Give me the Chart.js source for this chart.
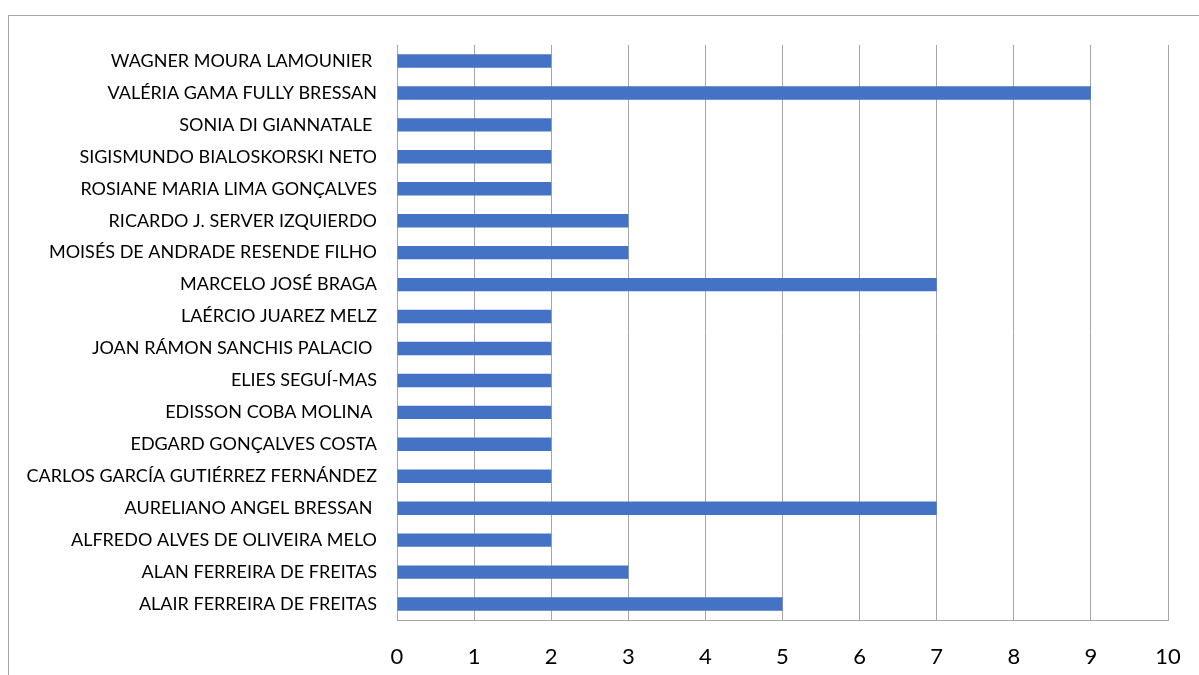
<!DOCTYPE html>
<html lang="pt">
<head>
    <meta charset="UTF-8">
    <title>Autores</title>
    <script src="https://cdn.jsdelivr.net/npm/chart.js"></script>
    <style>
        html, body { margin: 0; padding: 0; background: #fff; overflow: hidden; }
        #wrap { position: relative; width: 1199px; height: 675px; }
        #frame { position: absolute; left: 8px; top: 15px; width: 1300px; height: 800px;
                 border-left: 1px solid #a6a6a6; border-top: 1px solid #a6a6a6; }
        canvas { position: absolute; left: 0; top: 0; }
    </style>
</head>
<body>
<div id="wrap">
    <div id="frame"></div>
    <canvas id="autores" width="1199" height="675"></canvas>
</div>
<script>
    // autores, de cima para baixo
    const autores = [
        'WAGNER MOURA LAMOUNIER ',
        'VALÉRIA GAMA FULLY BRESSAN',
        'SONIA DI GIANNATALE ',
        'SIGISMUNDO BIALOSKORSKI NETO',
        'ROSIANE MARIA LIMA GONÇALVES',
        'RICARDO J. SERVER IZQUIERDO',
        'MOISÉS DE ANDRADE RESENDE FILHO',
        'MARCELO JOSÉ BRAGA',
        'LAÉRCIO JUAREZ MELZ',
        'JOAN RÁMON SANCHIS PALACIO ',
        'ELIES SEGUÍ-MAS',
        'EDISSON COBA MOLINA ',
        'EDGARD GONÇALVES COSTA',
        'CARLOS GARCÍA GUTIÉRREZ FERNÁNDEZ',
        'AURELIANO ANGEL BRESSAN ',
        'ALFREDO ALVES DE OLIVEIRA MELO',
        'ALAN FERREIRA DE FREITAS',
        'ALAIR FERREIRA DE FREITAS'
    ];
    const publicacoes = [2, 9, 2, 2, 2, 3, 3, 7, 2, 2, 2, 2, 2, 2, 7, 2, 3, 5];

    const cinza = '#a6a6a6';

    new Chart(document.getElementById('autores'), {
        type: 'bar',
        data: {
            labels: autores,
            datasets: [{
                data: publicacoes,
                backgroundColor: '#4472c4',
                barPercentage: 0.42,
                categoryPercentage: 1
            }]
        },
        options: {
            indexAxis: 'y',
            responsive: false,
            animation: false,
            layout: { padding: { top: 45, right: 31, bottom: 0, left: 0 } },
            plugins: { legend: { display: false }, tooltip: { enabled: false } },
            scales: {
                x: {
                    min: 0,
                    max: 10,
                    afterFit: s => { s.height = 55; s.paddingRight = 0; s.paddingLeft = 0; },
                    ticks: { stepSize: 1, padding: 24, color: '#000', font: { family: 'Lato', size: 22 } },
                    grid: { color: cinza, drawTicks: false },
                    border: { color: cinza }
                },
                y: {
                    afterFit: s => { s.width = 397; },
                    ticks: { padding: 20, color: '#000', autoSkip: false, font: { family: 'Lato', size: 18 } },
                    grid: { display: false, drawTicks: false },
                    border: { display: true, color: cinza }
                }
            }
        }
    });
</script>
</body>
</html>
